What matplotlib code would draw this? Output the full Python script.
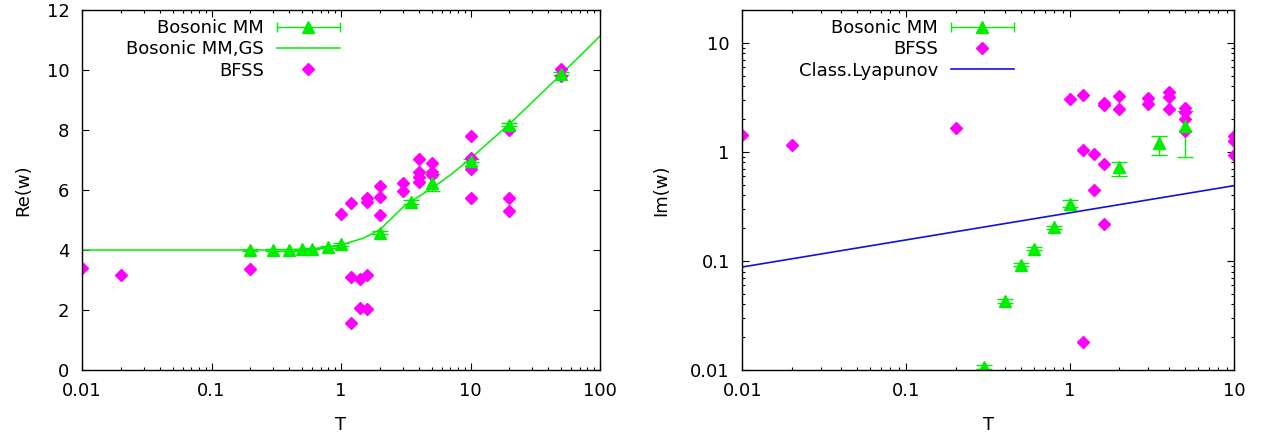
import numpy as np
import matplotlib
matplotlib.use('Agg')
import matplotlib.pyplot as plt
from matplotlib.lines import Line2D
from matplotlib.legend_handler import HandlerLine2D, HandlerTuple
from matplotlib.ticker import FixedLocator, FuncFormatter, NullFormatter, LogLocator

plt.rcParams['font.family'] = ['DejaVu Sans']
plt.rcParams['font.size'] = 13

green = '#00ee00'
magenta = '#ff00ff'
blue = '#1010e0'

# --- Re(w) panel ---
mm_T = [0.2, 0.3, 0.4, 0.5, 0.6, 0.8, 1, 2, 3.5, 5, 10, 20, 50]
mm_re = [4.0, 4.0, 4.0, 4.02, 4.04, 4.11, 4.19, 4.58, 5.6, 6.24, 6.97, 8.17, 9.87]
mm_re_err = [0.02, 0.02, 0.02, 0.02, 0.02, 0.03, 0.04, 0.05, 0.07, 0.28, 0.05, 0.05, 0.05]

gs_T = [0.01, 0.1, 0.3, 0.5, 0.7, 1, 1.5, 2, 3, 3.5, 5, 7, 10, 20, 50, 100]
gs_re = [4.0, 4.0, 4.0, 4.02, 4.07, 4.17, 4.4, 4.68, 5.42, 5.63, 6.05, 6.5, 7.05, 8.2, 9.85, 11.13]

bfss_re_T = [0.01, 0.02, 0.2, 1, 1.2, 1.2, 1.2, 1.4, 1.4, 1.6, 1.6, 1.6, 1.6,
             2, 2, 2, 3, 3, 4, 4, 4, 4, 5, 5, 5, 10, 10, 10, 10, 20, 20, 20, 50, 50]
bfss_re = [3.4, 3.17, 3.37, 5.19, 5.56, 3.09, 1.58, 3.02, 2.08, 5.72, 5.61, 3.17, 2.03,
           6.14, 5.78, 5.17, 6.24, 5.98, 7.03, 6.61, 6.44, 6.28, 6.89, 6.61, 6.5,
           7.81, 7.06, 6.7, 5.72, 8.0, 5.72, 5.31, 10.03, 9.8]

# --- Im(w) panel ---
mm_im_T = [0.3, 0.4, 0.5, 0.6, 0.8, 1, 2, 3.5, 5]
mm_im = [0.0107, 0.043, 0.092, 0.13, 0.204, 0.334, 0.72, 1.21, 1.71]
mm_im_lo = [0.0103, 0.0415, 0.089, 0.126, 0.197, 0.31, 0.60, 0.94, 0.89]
mm_im_hi = [0.0111, 0.0445, 0.095, 0.134, 0.211, 0.36, 0.81, 1.41, 2.39]

bfss_im_T = [0.01, 0.02, 0.2, 1, 1.2, 1.2, 1.2, 1.4, 1.4, 1.6, 1.6, 1.6, 1.6,
             2, 2, 3, 3, 4, 4, 4, 5, 5, 5, 5, 10, 10, 10]
bfss_im = [1.44, 1.16, 1.66, 3.08, 3.3, 1.05, 0.018, 0.96, 0.45, 2.81, 2.70, 0.77, 0.22,
           3.24, 2.49, 3.13, 2.77, 3.55, 3.16, 2.48, 2.53, 2.32, 2.0, 1.54, 1.39, 1.25, 0.94]

lyap_T = [0.01, 10]
lyap = [0.088, 0.49]

fig = plt.figure(figsize=(12.63, 4.38), dpi=100)
W, H = 1263, 438
ax1 = fig.add_axes([82 / W, (H - 370) / H, 518 / W, 360 / H])
ax2 = fig.add_axes([742.3 / W, (H - 370) / H, 491.7 / W, 360 / H])

fmt = FuncFormatter(lambda v, p: '%g' % v)

# left
ax1.plot(gs_T, gs_re, color=green, lw=1.1)
ax1.errorbar(mm_T, mm_re, yerr=mm_re_err, fmt='^', color=green, ms=8,
             capsize=6, elinewidth=1, capthick=1)
ax1.plot(bfss_re_T, bfss_re, 'D', color=magenta, ms=6.5, ls='none')
ax1.set_xscale('log')
ax1.set_xlim(0.01, 100)
ax1.set_ylim(0, 12)
ax1.yaxis.set_major_locator(FixedLocator([0, 2, 4, 6, 8, 10, 12]))
ax1.xaxis.set_major_locator(FixedLocator([0.01, 0.1, 1, 10, 100]))
ax1.xaxis.set_major_formatter(fmt)
ax1.xaxis.set_minor_locator(LogLocator(subs=np.arange(2, 10)))
ax1.xaxis.set_minor_formatter(NullFormatter())
ax1.set_xlabel('T')
ax1.set_ylabel('Re(w)')
ax1.xaxis.set_label_coords(0.5, -0.128)
ax1.yaxis.set_label_coords(-0.0965, 0.5)

# right
ax2.plot(lyap_T, lyap, color=blue, lw=1.2)
yerr2 = [np.array(mm_im) - np.array(mm_im_lo), np.array(mm_im_hi) - np.array(mm_im)]
ax2.errorbar(mm_im_T, mm_im, yerr=yerr2, fmt='^', color=green, ms=8,
             capsize=6, elinewidth=1, capthick=1)
ax2.plot(bfss_im_T, bfss_im, 'D', color=magenta, ms=6.5, ls='none')
ax2.set_xscale('log')
ax2.set_yscale('log')
ax2.set_xlim(0.01, 10)
ax2.set_ylim(0.01, 20)
ax2.xaxis.set_major_locator(FixedLocator([0.01, 0.1, 1, 10]))
ax2.yaxis.set_major_locator(FixedLocator([0.01, 0.1, 1, 10]))
ax2.xaxis.set_major_formatter(fmt)
ax2.yaxis.set_major_formatter(fmt)
for a in (ax2.xaxis, ax2.yaxis):
    a.set_minor_locator(LogLocator(subs=np.arange(2, 10)))
    a.set_minor_formatter(NullFormatter())
ax2.set_xlabel('T')
ax2.set_ylabel('Im(w)')
ax2.xaxis.set_label_coords(0.5, -0.128)
ax2.yaxis.set_label_coords(-0.147, 0.5)

for ax in (ax1, ax2):
    ax.tick_params(which='both', direction='in', top=True, right=True, pad=9, width=0.8)
    ax.tick_params(which='major', length=5)
    ax.tick_params(which='minor', length=2.5)
    for s in ax.spines.values():
        s.set_linewidth(1.0)

# legends (gnuplot style: text right-aligned, sample on the right)
caps = Line2D([], [], color=green, lw=1, marker='|', ms=7, mew=1)
tri = Line2D([], [], color=green, ls='none', marker='^', ms=8)
hmap = {tuple: HandlerTuple(ndivide=1, pad=0), caps: HandlerLine2D(numpoints=2, marker_pad=0)}
mm_handle = (caps, tri)
gs_handle = Line2D([], [], color=green, lw=1.1)
bf_handle = Line2D([], [], color=magenta, ls='none', marker='D', ms=6.5)
ly_handle = Line2D([], [], color=blue, lw=1.2)

leg_kw = dict(frameon=False, markerfirst=False, numpoints=1, handlelength=3.5,
              handletextpad=0.7, labelspacing=0.18, borderpad=0, borderaxespad=0,
              loc='upper right', handler_map=hmap, fontsize=13)
ax1.legend([mm_handle, gs_handle, bf_handle], ['Bosonic MM', 'Bosonic MM,GS', 'BFSS'],
           bbox_to_anchor=(0.498, 0.975), **leg_kw)
ax2.legend([mm_handle, bf_handle, ly_handle], ['Bosonic MM', 'BFSS', 'Class.Lyapunov'],
           bbox_to_anchor=(0.5526, 0.975), **leg_kw)

fig.savefig('out.png', dpi=100)
